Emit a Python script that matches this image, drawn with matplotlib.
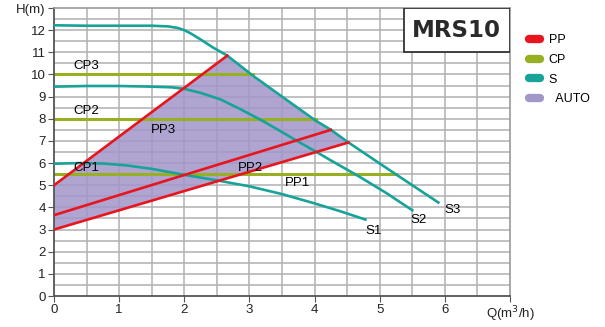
import numpy as np
import matplotlib
matplotlib.use("Agg")
import matplotlib.pyplot as plt
from matplotlib.lines import Line2D
from matplotlib.patches import Rectangle

plt.rcParams['font.family'] = ['Liberation Sans', 'DejaVu Sans']

# ---------------------------
# Data
# ---------------------------
s1_q = [0, 0.4, 0.75, 1.1, 1.5, 2.0, 2.5, 3.0, 3.5, 4.0, 4.4, 4.78]
s1_h = [5.97, 6.0, 5.98, 5.9, 5.74, 5.47, 5.22, 4.95, 4.6, 4.18, 3.82, 3.45]

s2_q = [0, 0.5, 1.0, 1.5, 1.8, 2.0, 2.25, 2.55, 2.85, 3.2, 3.5, 3.73, 4.0, 4.25, 4.68, 5.1, 5.5]
s2_h = [9.45, 9.48, 9.48, 9.45, 9.42, 9.35, 9.17, 8.88, 8.45, 7.91, 7.4, 7.0, 6.55, 6.12, 5.4, 4.65, 3.87]

s3_q = [0, 0.5, 1.0, 1.5, 1.75, 1.9, 2.0, 2.1, 2.25, 2.45, 2.66, 3.06, 3.5, 4.02, 4.25, 4.52, 5.0, 5.5, 5.9]
s3_h = [12.22, 12.2, 12.2, 12.2, 12.17, 12.1, 12.0, 11.85, 11.58, 11.2, 10.85, 9.93, 9.0, 7.91, 7.5, 6.93, 5.98, 5.0, 4.22]

cp_names = ["CP1", "CP2", "CP3"]
cp_h = [5.5, 8.0, 10.0]
cp_qmax = [5.25, 4.02, 3.06]

pp_names = ["PP1", "PP2", "PP3"]
pp_h0 = [3.0, 3.65, 5.0]
pp_q1 = [4.52, 4.25, 2.66]
pp_h1 = [6.93, 7.5, 10.85]

red = '#e8141e'
green = '#96b022'
teal = '#17a398'
lavender = '#a396c8'

fig = plt.figure(figsize=(6.05, 3.27), dpi=100)
ax = fig.add_axes([0.0893, 0.0948, 0.7537, 0.8807])

# grid every 0.5
ax.set_xlim(0, 7)
ax.set_ylim(0, 13)
for q in np.arange(0.5, 7.0, 0.5):
    ax.axvline(q, color='#b0b0b0', lw=1.1, zorder=0)
for h in np.arange(0.5, 13.0, 0.5):
    ax.axhline(h, color='#b0b0b0', lw=1.1, zorder=0)

# AUTO area between PP1, S3 and PP3
mid = [q for q in s3_q if pp_q1[2] < q < pp_q1[0]]
seg_q = [pp_q1[0]] + mid[::-1] + [pp_q1[2]]
seg_h = list(np.interp(seg_q, s3_q, s3_h))
poly_q = [0, pp_q1[0]] + seg_q + [0]
poly_h = [pp_h0[0], pp_h1[0]] + seg_h + [pp_h0[2]]
ax.fill(poly_q, poly_h, color=lavender, alpha=0.85, lw=0, zorder=1)

# S curves
for q, h in [(s1_q, s1_h), (s2_q, s2_h), (s3_q, s3_h)]:
    ax.plot(q, h, color=teal, lw=1.9, zorder=3, solid_joinstyle='round')

# CP lines
for name, h, qm in zip(cp_names, cp_h, cp_qmax):
    ax.plot([0, qm], [h, h], color=green, lw=2.2, zorder=2)

# PP lines
for name, h0, q1, h1 in zip(pp_names, pp_h0, pp_q1, pp_h1):
    ax.plot([0, q1], [h0, h1], color=red, lw=1.9, zorder=4)

# curve labels
fs = 9.5
ax.text(0.5, 10.4, "CP3", fontsize=fs, ha='center', va='center', zorder=5)
ax.text(0.5, 8.35, "CP2", fontsize=fs, ha='center', va='center', zorder=5)
ax.text(0.5, 5.8, "CP1", fontsize=fs, ha='center', va='center', zorder=5)
ax.text(1.68, 7.5, "PP3", fontsize=fs, ha='center', va='center', zorder=5)
ax.text(3.02, 5.8, "PP2", fontsize=fs, ha='center', va='center', zorder=5)
ax.text(3.74, 5.08, "PP1", fontsize=fs, ha='center', va='center', zorder=5)
ax.text(4.91, 2.95, "S1", fontsize=fs, ha='center', va='center', zorder=5)
ax.text(5.6, 3.45, "S2", fontsize=fs, ha='center', va='center', zorder=5)
ax.text(6.12, 3.9, "S3", fontsize=fs, ha='center', va='center', zorder=5)

# model box
ax.add_patch(Rectangle((5.37, 11.0), 1.63, 2.0, facecolor='white',
                       edgecolor='#333333', lw=1.3, zorder=6))
ax.text(6.18, 12.0, "MRS10", fontsize=16.5, fontweight='bold',
        family='DejaVu Sans', color='#2a2a2a', ha='center', va='center', zorder=7)

# axes styling
ax.set_xticks(range(8))
ax.set_xticklabels([str(i) for i in range(7)] + ["Q(m$^3$/h)"], fontsize=fs)
ax.set_yticks(range(14))
ax.set_yticklabels([str(i) for i in range(13)] + ["H(m)"], fontsize=fs)
ax.tick_params(direction='out', length=4, color='#555555', labelcolor='#222222', pad=2)
for side in ['left', 'bottom']:
    ax.spines[side].set_color('#555555')
    ax.spines[side].set_linewidth(1.3)
for side in ['top', 'right']:
    ax.spines[side].set_color('#9a9a9a')
    ax.spines[side].set_linewidth(1.2)

# legend
handles = [Line2D([0], [0], color=c, lw=6, solid_capstyle='round')
           for c in [red, green, teal, lavender]]
fig.legend(handles, ["PP", "CP", "S", "  AUTO"], loc='upper left',
           bbox_to_anchor=(0.855, 0.93), frameon=False, fontsize=9,
           handlelength=0.9, handletextpad=0.7, labelspacing=0.62)

plt.savefig("out.png", dpi=100)
